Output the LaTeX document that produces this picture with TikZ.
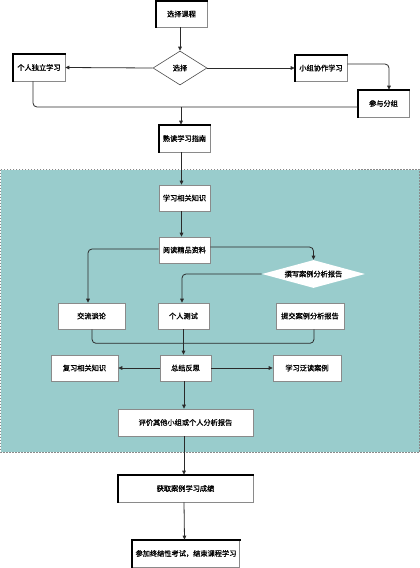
\documentclass[tikz,border=0pt]{standalone}
\usepackage{fontspec}
\setmainfont{Noto Sans CJK SC}[FakeBold=1]
\usetikzlibrary{shapes.geometric,arrows.meta}
\definecolor{tealbg}{HTML}{99CCCC}
\definecolor{boxline}{HTML}{8A8A8A}
\definecolor{conn}{HTML}{2A2A2A}
\begin{document}
\begin{tikzpicture}[x=1pt,y=-1pt,
  font=\fontsize{7.2}{8.5}\selectfont,
  box/.style={draw=boxline,fill=white,line width=0.6pt,inner sep=0pt,minimum height=26pt},
  dia/.style={diamond,draw=boxline,fill=white,line width=0.6pt,inner sep=0pt},
  thk/.style={line width=1.6pt,black,line cap=rect},
  line/.style={conn,line width=0.8pt},
  arr/.style={line,-{Triangle[length=4pt,width=3.6pt]}},
  rc/.style={rounded corners=4pt}]
\path[use as bounding box] (0,0) rectangle (420,568);
% teal region
\fill[tealbg] (0.5,169.5) rectangle (419.5,452);
\draw[boxline,dashed,dash pattern=on 1.5pt off 1.5pt,line width=0.6pt] (0.5,169.5) rectangle (419.5,452);
% top part
\node[box,minimum width=51pt] (a) at (181.5,14) {选择课程};
\node[dia,minimum width=54pt,minimum height=34pt,shape aspect=1.6,draw=black!70] (d1) at (180,68) {选择};
\node[box,minimum width=52pt,minimum height=27pt] (b) at (39,67.5) {个人独立学习};
\node[box,minimum width=52pt] (c) at (321,68) {小组协作学习};
\node[box,minimum width=51pt,minimum height=27pt] (e) at (383.5,103.5) {参与分组};
\node[box,minimum width=51pt,minimum height=27pt] (f) at (184.5,138.5) {熟读学习指南};
\coordinate (j1) at (181,107);
% teal part
\node[box,minimum width=51pt] (g) at (184.5,198) {学习相关知识};
\node[box,minimum width=51pt] (h) at (184.5,250) {阅读精品资料};
\node[dia,draw=none,minimum width=103pt,minimum height=28pt,shape aspect=3.7] (d2) at (313.5,274) {撰写案例分析报告};
\node[box,minimum width=67pt] (i) at (91.5,316) {交流谈论};
\node[box,minimum width=51pt] (j) at (183.5,316) {个人测试};
\node[box,minimum width=68pt] (k) at (310,316) {提交案例分析报告};
\node[box,minimum width=51pt] (l) at (185.5,368) {总结反思};
\node[box,minimum width=67pt] (m) at (84.5,368) {复习相关知识};
\node[box,minimum width=68pt] (n) at (307,368) {学习泛读案例};
\node[box,minimum width=135pt,minimum height=27pt] (o) at (185.5,422.5) {评价其他小组或个人分析报告};
% bottom part
\node[box,minimum width=135pt,minimum height=27pt] (p) at (185.5,488.5) {获取案例学习成绩};
\node[box,minimum width=107pt,minimum height=27pt] (q) at (186,553.5) {参加终结性考试，结束课程学习};
% thick edges
\foreach \n in {a,b,c,e,f,p,q}
  \draw[thk] (\n.south west) -- (\n.north west) -- (\n.north east);
% connectors
\draw[arr] (a.south -| d1.north) -- (d1.north);
\draw[arr] (d1.west) -- (b.east);
\draw[arr] (d1.east) -- (c.west);
\draw[arr,rc] ([yshift=4pt]c.east) -| ([xshift=5.5pt]e.north);
\draw[line,rc] ([xshift=-6pt]b.south) |- ([yshift=-3.5pt]e.west);
\draw[arr] (j1) -- (j1 |- f.north);
\draw[arr] ([xshift=-3pt]f.south) -- ([xshift=-3pt]g.north);
\draw[arr] ([xshift=-3pt]g.south) -- ([xshift=-3pt]h.north);
\draw[arr,rc] ([yshift=1pt]h.west) -| ([xshift=-3.5pt]i.north);
\draw[arr,rc] ([yshift=3pt]h.east) -| (d2.north);
\draw[arr,rc] (d2.west) -| ([xshift=-1.5pt]j.north);
\draw[line,rc] ([xshift=0.5pt]i.south) -- ++(0,14) -| ([xshift=4pt]k.south);
\draw[arr] (j.south) -- (j.south |- l.north);
\draw[arr] (l.west) -- (m.east);
\draw[arr] (l.east) -- (n.west);
\draw[arr] ([xshift=-1.5pt]l.south) -- ([xshift=-1.5pt]l.south |- o.north);
\draw[arr] ([xshift=-1.5pt]o.south) -- ([xshift=-1.5pt]p.north);
\draw[arr] ([xshift=-1.5pt]p.south) -- ([xshift=-1.5pt]q.north);
\end{tikzpicture}
\end{document}
